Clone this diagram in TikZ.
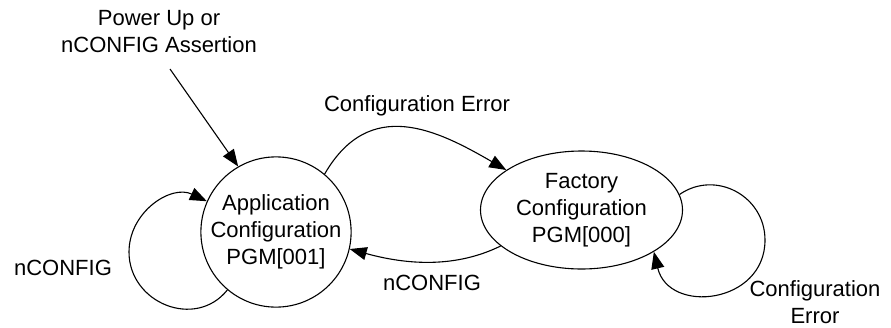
\documentclass[tikz,border=0pt]{standalone}
\usepackage{fontspec}
\setmainfont{Liberation Sans}
\usetikzlibrary{arrows.meta,shapes.geometric}
\begin{document}
\begin{tikzpicture}[x=1pt, y=-1pt, line width=1.1pt, line join=round,
		font=\fontsize{22}{27}\selectfont, >={Triangle[length=17pt,width=13pt]},
		stnode/.style={draw, inner sep=0pt, align=center},
		lbl/.style={align=center, inner sep=0pt}]
	\useasboundingbox (0,0) rectangle (891,327);
	% states
	\node[stnode, circle, minimum size=144pt] (app) at (276,232) {Application\\Configuration\\PGM[001]};
	\node[stnode, ellipse, minimum width=202pt, minimum height=118pt] (fact) at (581.5,210) {Factory\\Configuration\\PGM[000]};
	% labels
	\node[lbl] (power) at (159,32) {Power Up or\\nCONFIG Assertion};
	\node[lbl] (cfgerr) at (417,106) {Configuration Error};
	\node[lbl] (nleft) at (63,268) {nCONFIG};
	\node[lbl] (nbot) at (432,283) {nCONFIG};
	\node[lbl] (cfgerr2) at (815,302) {Configuration\\Error};
	\coordinate (start) at (170,69);
	\coordinate (apploop) at (129,252);
	\coordinate (factloop) at (765,240);
	% transitions
	\draw[->] (start) -- (app.120);
	\draw[->] (app.50) .. controls +(45,-78) and +(-69,-40) .. (fact.152);
	\draw[->] (fact.204) .. controls +(-45,22) and +(58,16) .. (app.347);
	\draw[->] (app.230) .. controls +(-32,40) and +(0,51) .. (apploop)
		.. controls +(0,-40) and +(-36,-17) .. (app.156);
	\draw[->] (fact.9) .. controls +(36,-25) and +(0,-44) .. (factloop)
		.. controls +(0,64) and +(15,63) .. (fact.-30);
\end{tikzpicture}
\end{document}
